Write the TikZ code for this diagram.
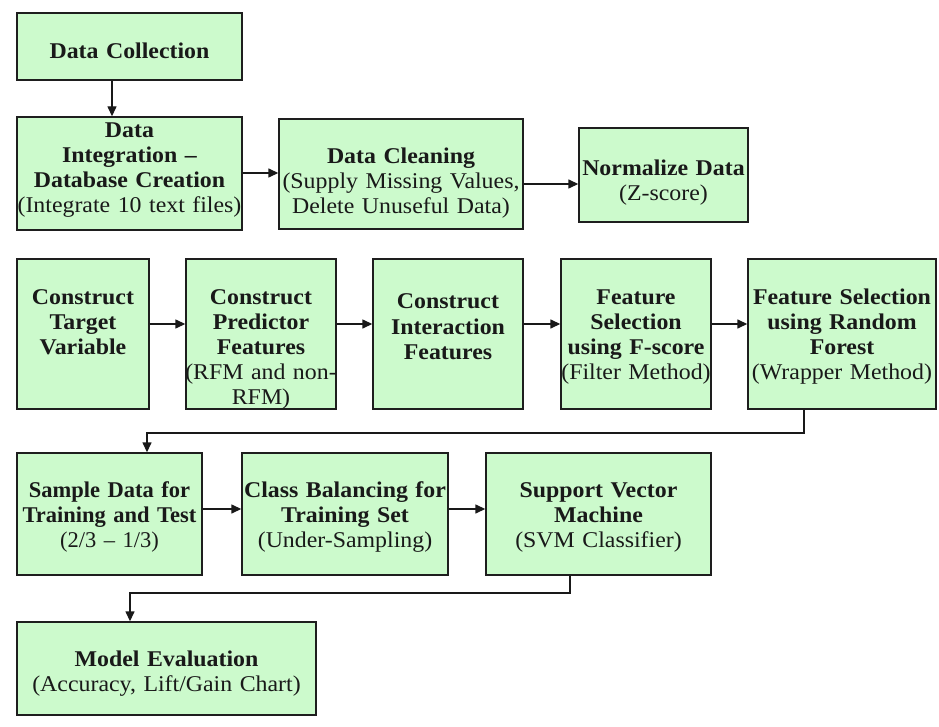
\documentclass[tikz,border=0pt]{standalone}
\usepackage{fontspec}
\setmainfont{Liberation Serif}[FakeStretch=1.06]
\newfontfamily\condserif{Liberation Serif}[Ligatures=TeX]
\usetikzlibrary{arrows.meta}
\definecolor{boxfill}{RGB}{204,250,204}
\definecolor{boxline}{RGB}{30,30,30}
\tikzset{
  box/.style={draw=boxline, fill=boxfill, line width=1.4pt, inner sep=0pt},
  txt/.style={anchor=base, align=center, inner sep=0pt, text width=340pt,
              font=\fontsize{22.5}{25}\selectfont, text=black!90},
  arr/.style={draw=black!90, line width=1.4pt, -{Triangle[length=10pt,width=9pt]}},
}
\begin{document}
\begin{tikzpicture}[x=1pt,y=-1pt]
\fill[white] (0,0) rectangle (939,727);
\useasboundingbox (0,0) rectangle (939,727);

% ---- boxes ----
\node[box, minimum width=225pt, minimum height=67pt]  (dc) at (129.5,46.5) {};
\node[box, minimum width=225pt, minimum height=113pt] (di) at (129.5,173.5) {};
\node[box, minimum width=244pt, minimum height=110pt] (cl) at (401,174) {};
\node[box, minimum width=169pt, minimum height=94pt]  (nm) at (663.5,175) {};

\node[box, minimum width=132pt, minimum height=150pt] (ct) at (83,334) {};
\node[box, minimum width=150pt, minimum height=150pt] (cp) at (261,334) {};
\node[box, minimum width=150pt, minimum height=150pt] (ci) at (448,334) {};
\node[box, minimum width=150pt, minimum height=150pt] (fs) at (636,334) {};
\node[box, minimum width=188pt, minimum height=150pt] (rf) at (842,334) {};

\node[box, minimum width=185pt, minimum height=122pt] (sd) at (109.5,514) {};
\node[box, minimum width=206pt, minimum height=122pt] (cb) at (345,514) {};
\node[box, minimum width=225pt, minimum height=122pt] (sv) at (598.5,514) {};

\node[box, minimum width=299pt, minimum height=93pt]  (me) at (166.5,668.5) {};

% ---- texts ----
\node[txt] (dct) at ([yshift=-46pt]dc.north) {\textbf{Data Collection}};
\node[txt] (dit) at ([yshift=-21pt]di.north) {{\bfseries Data\\Integration –\\Database Creation}\\(Integrate 10 text files)};
\node[txt] (clt) at ([yshift=-45pt]cl.north) {{\bfseries Data Cleaning}\\(Supply Missing Values,\\Delete Unuseful Data)};
\node[txt] (nmt) at ([yshift=-48pt]nm.north) {{\bfseries Normalize Data}\\(Z-score)};

\node[txt] (ctt) at ([yshift=-46pt]ct.north) {{\bfseries Construct\\Target\\Variable}};
\node[txt] (cpt) at ([yshift=-46pt]cp.north) {{\bfseries Construct\\Predictor\\Features}\\(RFM and non-\\RFM)};
\node[txt] (cit) at ([yshift=-50pt]ci.north) {\fontsize{22.5}{26.5}\selectfont{\bfseries Construct\\Interaction\\Features}};
\node[txt] (fst) at ([yshift=-46pt]fs.north) {{\bfseries Feature\\Selection\\using F-score}\\(Filter Method)};
\node[txt] (rft) at ([yshift=-46pt]rf.north) {{\bfseries Feature Selection\\using Random\\Forest}\\(Wrapper Method)};

\node[txt] (sdt) at ([yshift=-45pt]sd.north) {\condserif{\bfseries Sample Data for\\Training and Test}\\(2/3 – 1/3)};
\node[txt] (cbt) at ([yshift=-45pt]cb.north) {{\bfseries Class Balancing for\\Training Set}\\(Under-Sampling)};
\node[txt] (svt) at ([yshift=-45pt]sv.north) {{\bfseries Support Vector\\Machine}\\(SVM Classifier)};

\node[txt] (met) at ([yshift=-45pt]me.north) {{\bfseries Model Evaluation}\\(Accuracy, Lift/Gain Chart)};

% ---- connectors ----
\draw[arr] (dc.south -| 112,0) -- (di.north -| 112,0);
\draw[arr] (di.east |- 0,173) -- (cl.west |- 0,173);
\draw[arr] (cl.east |- 0,184) -- (nm.west |- 0,184);

\draw[arr] (ct.east |- 0,324) -- (cp.west |- 0,324);
\draw[arr] (cp.east |- 0,324) -- (ci.west |- 0,324);
\draw[arr] (ci.east |- 0,324) -- (fs.west |- 0,324);
\draw[arr] (fs.east |- 0,324) -- (rf.west |- 0,324);

\coordinate (bendA) at (147,433);
\draw[arr] (rf.south -| 804,0) |- (bendA) -- (sd.north -| bendA);

\draw[arr] (sd.east |- 0,509) -- (cb.west |- 0,509);
\draw[arr] (cb.east |- 0,509) -- (sv.west |- 0,509);

\coordinate (bendB) at (130,593);
\draw[arr] (sv.south -| 570,0) |- (bendB) -- (me.north -| bendB);
\end{tikzpicture}
\end{document}
